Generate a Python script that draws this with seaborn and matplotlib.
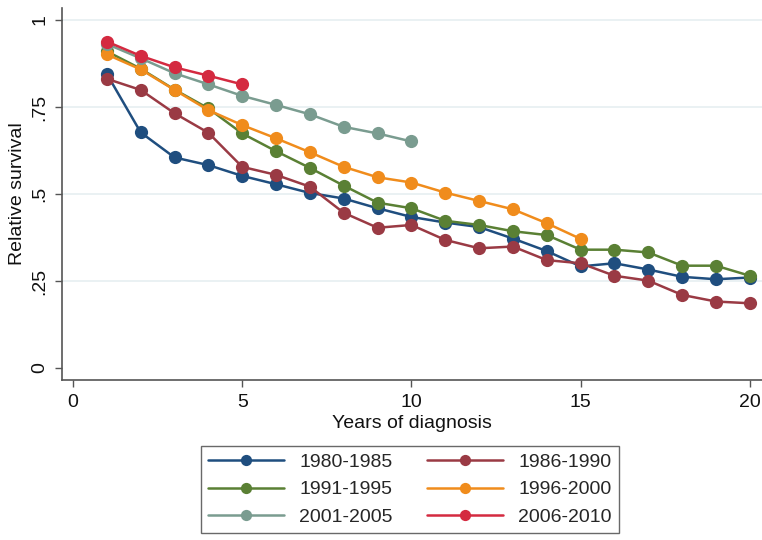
import numpy as np
import pandas as pd
import matplotlib
matplotlib.use("Agg")
import matplotlib.pyplot as plt
import seaborn as sns

periods = ["1980-1985", "1986-1990", "1991-1995", "1996-2000", "2001-2005", "2006-2010"]
colors = ["#1f4e7f", "#9a3a44", "#5a8034", "#f08c1c", "#7a9c90", "#d42a40"]

s1980 = [0.845, 0.677, 0.605, 0.583, 0.552, 0.528, 0.503, 0.487, 0.459, 0.434,
         0.418, 0.405, 0.372, 0.336, 0.292, 0.301, 0.283, 0.262, 0.255, 0.260]
s1986 = [0.831, 0.799, 0.732, 0.676, 0.578, 0.555, 0.521, 0.446, 0.403, 0.411,
         0.368, 0.344, 0.349, 0.310, 0.301, 0.265, 0.251, 0.210, 0.191, 0.186]
s1991 = [0.910, 0.860, 0.800, 0.746, 0.674, 0.623, 0.575, 0.524, 0.475, 0.459,
         0.423, 0.411, 0.393, 0.382, 0.340, 0.340, 0.332, 0.294, 0.294, 0.265]
s1996 = [0.901, 0.858, 0.799, 0.741, 0.698, 0.660, 0.620, 0.578, 0.548, 0.533,
         0.504, 0.480, 0.456, 0.416, 0.371]
s2001 = [0.931, 0.890, 0.847, 0.815, 0.782, 0.756, 0.729, 0.693, 0.674, 0.651]
s2006 = [0.938, 0.897, 0.864, 0.840, 0.815]

series = [s1980, s1986, s1991, s1996, s2001, s2006]

rows = []
for p, vals in zip(periods, series):
    for i, v in enumerate(vals):
        rows.append({"period": p, "year": i + 1, "surv": v})
df = pd.DataFrame(rows)

sns.set_style("white")
plt.rcParams["font.family"] = ["Liberation Sans", "DejaVu Sans"]

FS = 14

fig = plt.figure(figsize=(7.62, 5.40), dpi=100)
ax = fig.add_axes([62 / 762, 160 / 540, 700 / 762, 372 / 540])

for yv in [0.25, 0.5, 0.75, 1.0]:
    ax.axhline(yv, color="#e6eff1", lw=1.2, zorder=0)

sns.lineplot(data=df, x="year", y="surv", hue="period", hue_order=periods,
             palette=colors, marker="o", markersize=9.5, markeredgewidth=0,
             linewidth=1.8, ax=ax, legend=True, zorder=3)

ax.set_xlim(-0.325, 20.36)
ax.set_ylim(-0.0345, 1.0345)
ax.set_xticks([0, 5, 10, 15, 20])
ax.set_xticklabels(["0", "5", "10", "15", "20"])
ax.set_yticks([0, 0.25, 0.5, 0.75, 1.0])
ax.set_yticklabels(["0", ".25", ".5", ".75", "1"], rotation=90, va="center")
ax.tick_params(axis="both", which="major", direction="out", length=5, width=1,
               color="#555555", labelsize=FS, labelcolor="#111111", pad=5,
               left=True, bottom=True)
for side in ["top", "right"]:
    ax.spines[side].set_visible(False)
for side in ["left", "bottom"]:
    ax.spines[side].set_color("#555555")
    ax.spines[side].set_linewidth(1.2)

ax.set_xlabel("Years of diagnosis", fontsize=FS, color="#111111", labelpad=3)
ax.set_ylabel("Relative survival", fontsize=FS, color="#111111", labelpad=4)

handles, labels = ax.get_legend_handles_labels()
order = [0, 2, 4, 1, 3, 5]
ax.legend([handles[i] for i in order], [labels[i] for i in order], ncol=2,
          loc="upper center", bbox_to_anchor=(410 / 762, 1 - 446 / 540),
          bbox_transform=fig.transFigure, frameon=True, fancybox=False,
          edgecolor="#444444", fontsize=FS, handlelength=3.9,
          columnspacing=1.75, handletextpad=0.8, borderpad=0.38,
          labelspacing=0.5, markerscale=0.85, borderaxespad=0)
leg = ax.get_legend()
leg.get_frame().set_linewidth(1.0)

fig.savefig("out.png", dpi=100, facecolor="white")
